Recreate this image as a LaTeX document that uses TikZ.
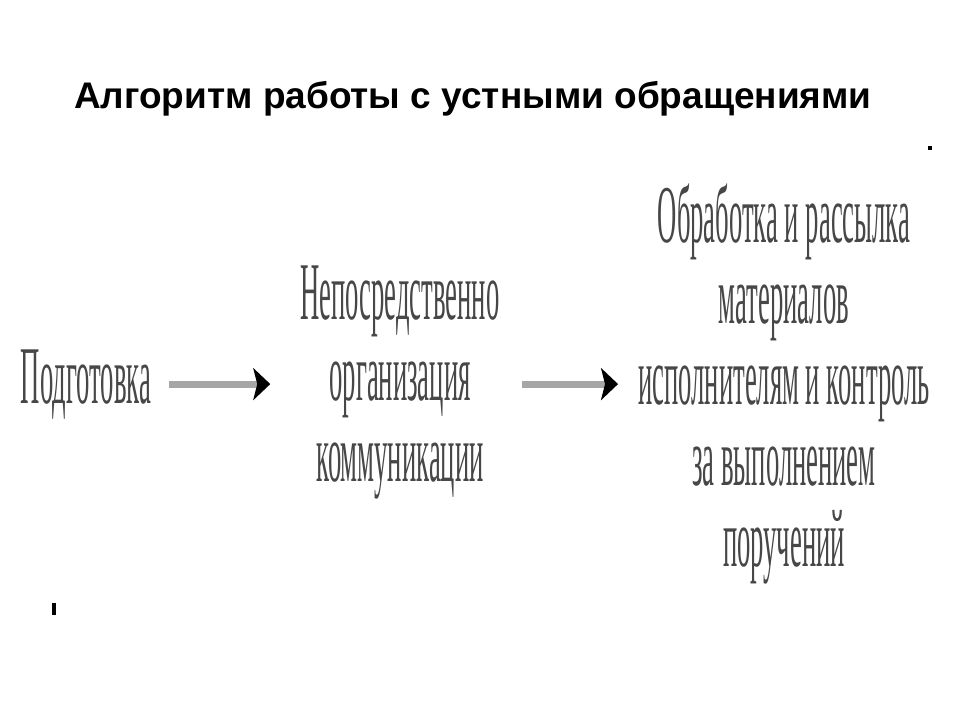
\documentclass[tikz,border=0pt]{standalone}
\usepackage{fontspec}
\usepackage{tikz}
\usetikzlibrary{arrows.meta}
\newfontfamily\titlefont{Liberation Sans}
\newfontfamily\condfont[FakeStretch=0.325]{Liberation Serif}

\begin{document}
\begin{tikzpicture}[x=1pt,y=-1pt,
        steptext/.style={font=\condfont\fontsize{82}{81}\selectfont, text=black!72, align=center, inner sep=0pt},
        flowarrow/.style={line width=7pt, draw=gray!70, -{Stealth[color=black,length=17pt,width=32pt,inset=4pt]}}]
        \useasboundingbox (0,0) rectangle (960,720);

        % title
        \node[anchor=base west, inner sep=0pt, font=\titlefont\bfseries\fontsize{37}{42}\selectfont] (title) at (74,108) {Алгоритм работы с устными обращениями};

        % left: preparation
        \node[steptext, anchor=base] (prep) at (86,403) {Подготовка};

        % middle: communication
        \node[steptext, anchor=north] (org) at (400,266) {Непосредственно\\организация\\коммуникации};

        % right: processing
        \node[steptext, anchor=north] (proc) at (784,184) {Обработка и рассылка\\материалов\\исполнителям и контроль\\за выполнением\\поручений};

        % arrows
        \draw[flowarrow, shorten <=18pt, shorten >=30pt] (prep) -- (prep -| org.west);
        \draw[flowarrow, shorten <=22pt, shorten >=20pt] (org.east |- prep) -- (prep -| proc.west);

        % specks
        \fill (928,146) rectangle (932,150);
        \fill (52,603) rectangle (56,615);
    \end{tikzpicture}
\end{document}
